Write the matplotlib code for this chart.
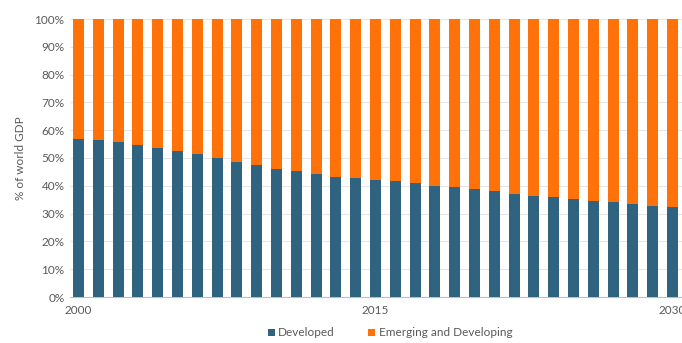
import matplotlib
matplotlib.use("Agg")
import matplotlib.pyplot as plt
import numpy as np

years = list(range(2000, 2031))
developed = [56.8, 56.3, 55.8, 54.7, 53.6, 52.4, 51.4, 50.0, 48.7, 47.4,
             46.2, 45.2, 44.4, 43.2, 42.7, 42.2, 41.8, 41.0, 40.1, 39.4,
             38.9, 38.0, 37.2, 36.5, 35.9, 35.3, 34.7, 34.0, 33.5, 32.9, 32.3]
emerging = [100 - d for d in developed]
tick_years = [2000, 2015, 2030]
yticks = list(range(0, 101, 10))

plt.rcParams['font.family'] = ['Lato', 'DejaVu Sans']
blue = '#2F6380'
orange = '#FF7209'
gray = '#595959'

fig = plt.figure(figsize=(6.82, 3.43), dpi=100)
ax = fig.add_axes([70/682, 1-297/343, (684.4-70)/682, (297-19)/343])

x = np.arange(len(years))
ax.bar(x, developed, width=0.56, color=blue, label='Developed', zorder=3)
ax.bar(x, emerging, width=0.56, bottom=developed, color=orange,
       label='Emerging and Developing', zorder=3)

ax.set_xlim(-0.43, 30.6)
ax.set_ylim(0, 100)
ax.set_yticks(yticks)
ax.set_yticklabels([f"{v}%" for v in yticks], color=gray, fontsize=8.5)
ax.set_xticks([years.index(y) for y in tick_years])
ax.set_xticklabels([str(y) for y in tick_years], color=gray, fontsize=8.5)
ax.tick_params(axis='both', length=0)
ax.tick_params(axis='x', pad=6)
ax.tick_params(axis='y', pad=4)
ax.yaxis.grid(True, color='#E6E6E6', linewidth=0.8, zorder=0)
for s in ['top', 'right', 'left']:
    ax.spines[s].set_visible(False)
ax.spines['bottom'].set_color('#BFBFBF')
ax.spines['bottom'].set_linewidth(0.8)
ax.set_ylabel('% of world GDP', color=gray, fontsize=8.5, labelpad=6)

fig.legend(loc='center', bbox_to_anchor=(390/682, 10/343), ncol=2,
           frameon=False, fontsize=8.5, handlelength=0.6, handleheight=0.6,
           handletextpad=0.3, columnspacing=2.8, labelcolor=gray)

fig.savefig('out.png', dpi=100)
